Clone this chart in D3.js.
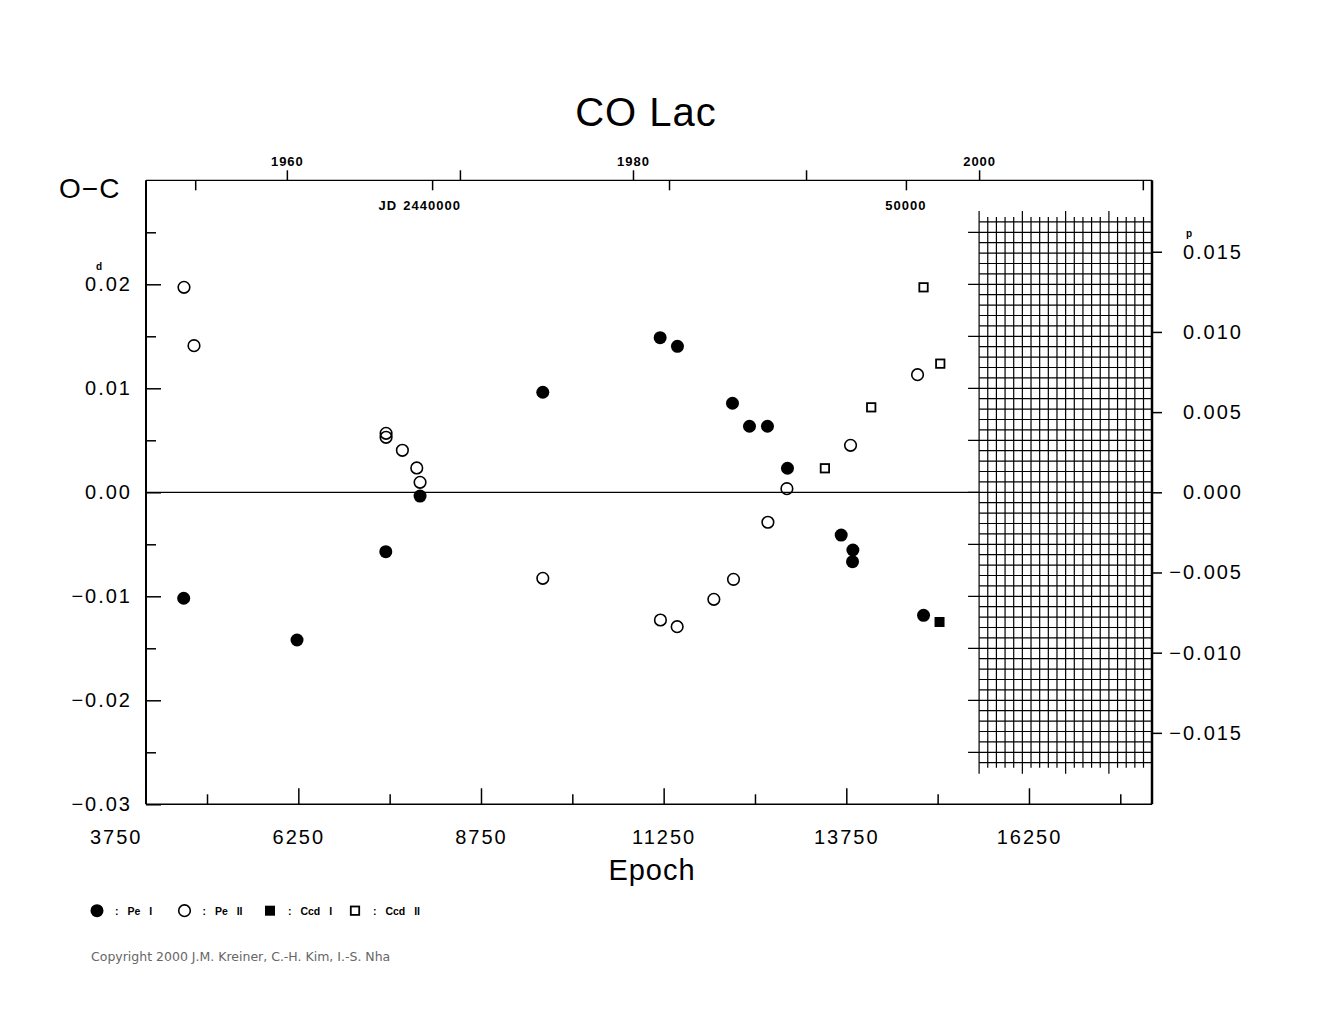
<!DOCTYPE html>
<html><head><meta charset="utf-8">
<script src="https://cdn.jsdelivr.net/npm/d3@7"></script>
<style>
body{margin:0;background:#fff}
svg{display:block;font-family:"Liberation Sans",Arial,sans-serif}
</style>
</head><body>
<svg id="chart" width="1325" height="1020"></svg>
<script>
// ---------- data ----------
const title = "CO Lac";
const period = 1.54202;          // days
const T0 = 2427539;              // JD of epoch 0
const epochDomain = [4165, 17934];
const ocDomain = [-0.03, 0.03];

const epochTicks = [3750, 6250, 8750, 11250, 13750, 16250];
const epochMinorTicks = [5000, 7500, 10000, 12500, 15000, 17500];
const ocTicks = [-0.03, -0.02, -0.01, 0.00, 0.01, 0.02];
const ocMinorTicks = [-0.025, -0.015, -0.005, 0.005, 0.015, 0.025];
const phaseTicks = [-0.015, -0.010, -0.005, 0.000, 0.005, 0.010, 0.015];
const yearTicks = [1960, 1970, 1980, 1990, 2000];
const yearLabels = [1960, 1980, 2000];
const jdTicks = [2435000, 2440000, 2445000, 2450000, 2455000];
const jdLabelValues = [2440000, 2450000];
const jdLabelTexts = ["2440000", "50000"];

const peI_epoch = [4681, 6232, 7447, 7916, 9596, 11202, 11439, 12192, 12425, 12671, 12945, 13680, 13840, 13835, 14807];
const peI_oc    = [-0.01019, -0.01420, -0.00571, -0.00036, 0.00962, 0.01487, 0.01404, 0.00856, 0.00635, 0.00635, 0.00231, -0.00411, -0.00555, -0.00667, -0.01183];

const peII_epoch = [4685, 4822, 7451, 7451, 7674, 7871, 7916, 9596, 11206, 11435, 11937, 12206, 12677, 12937, 13808, 14725];
const peII_oc    = [0.01971, 0.01410, 0.00567, 0.00529, 0.00404, 0.00234, 0.00096, -0.00827, -0.01228, -0.01292, -0.01029, -0.00837, -0.00288, 0.00035, 0.00452, 0.01131];

const ccdI_epoch = [15026];
const ccdI_oc    = [-0.01247];

const ccdII_epoch = [13457, 14091, 14807, 15036];
const ccdII_oc    = [0.00231, 0.00817, 0.01971, 0.01237];

const legendLabels = [": Pe I", ": Pe II", ": Ccd I", ": Ccd II"];
const copyright = "Copyright 2000 J.M. Kreiner, C.-H. Kim, I.-S. Nha";

// ---------- scales ----------
const L = 146, R = 1152, T = 180.3, B = 804.3;
const svg = d3.select("#chart");

const x = d3.scaleLinear().domain(epochDomain).range([L, R]);
const y = d3.scaleLinear().domain(ocDomain).range([B, T]);
const jdToYear = jd => 2000 + (jd - 2451544.5) / 365.25;
const jdDomain = epochDomain.map(e => T0 + period * e);
const xJD = d3.scaleLinear().domain(jdDomain).range([L, R]);
const xYear = d3.scaleLinear().domain(jdDomain.map(jdToYear)).range([L, R]);
const yPhase = d3.scaleLinear().domain(ocDomain.map(v => v / period)).range([B, T]);

// ---------- title & labels ----------
svg.append("text").attr("x", 646).attr("y", 126).attr("text-anchor", "middle")
  .attr("font-size", 40).attr("letter-spacing", 1).text(title);
svg.append("text").attr("x", 59).attr("y", 198).attr("font-size", 28).attr("letter-spacing", 1).text("O\u2212C");
svg.append("text").attr("x", 652).attr("y", 880).attr("text-anchor", "middle")
  .attr("font-size", 29).attr("letter-spacing", 1).text("Epoch");

// ---------- future grid ----------
const g = svg.append("g").attr("stroke", "#000").attr("stroke-width", 1.2);
const gridYears = d3.range(0, 21).map(k => 2000 + k * 0.5);
const gridOC = d3.range(-26, 27).map(k => k / 1000);
const gTop = y(0.026), gBot = y(-0.026), gLeft = xYear(2000);
gridYears.forEach((yr, i) => {
  const ext = i % 5 === 0 ? 11 : 5;
  g.append("line").attr("x1", xYear(yr)).attr("x2", xYear(yr))
    .attr("y1", gTop - ext).attr("y2", gBot + ext);
});
gridOC.forEach(v => {
  const major = Math.abs(Math.round(v * 1000)) % 5 === 0;
  g.append("line").attr("x1", major ? gLeft - 11 : gLeft).attr("x2", R)
    .attr("y1", y(v)).attr("y2", y(v));
});

// ---------- zero line ----------
svg.append("line").attr("x1", L).attr("x2", gLeft).attr("y1", y(0)).attr("y2", y(0))
  .attr("stroke", "#000").attr("stroke-width", 1.2);

// ---------- axes ----------
function styleAxis(sel, fs) {
  sel.select(".domain").remove();
  sel.selectAll("line").attr("stroke", "#000").attr("stroke-width", 1.5);
  sel.selectAll("text").attr("font-size", fs).attr("fill", "#000")
    .attr("font-family", "Liberation Sans, Arial, sans-serif");
}
// left
const leftAx = svg.append("g").attr("transform", `translate(${L},0)`)
  .call(d3.axisLeft(y).tickValues(ocTicks).tickSizeInner(-15).tickSizeOuter(0).tickPadding(14)
    .tickFormat(d3.format(".2f")));
styleAxis(leftAx, 20);
leftAx.selectAll("text").attr("letter-spacing", 2);
const leftMinor = svg.append("g").attr("transform", `translate(${L},0)`)
  .call(d3.axisLeft(y).tickValues(ocMinorTicks).tickSizeInner(-10).tickSizeOuter(0).tickFormat(""));
styleAxis(leftMinor, 10);
svg.append("text").attr("x", 96).attr("y", 270).attr("font-size", 10).attr("font-weight", "bold").text("d");

// right (phase)
const rightAx = svg.append("g").attr("transform", `translate(${R},0)`)
  .call(d3.axisRight(yPhase).tickValues(phaseTicks).tickSizeInner(10).tickSizeOuter(0).tickPadding(0)
    .tickFormat(d3.format(".3f")));
styleAxis(rightAx, 20);
rightAx.selectAll("text").attr("text-anchor", "end").attr("x", 91).attr("letter-spacing", 2);
svg.append("text").attr("x", 1186).attr("y", 237).attr("font-size", 10).attr("font-weight", "bold").text("p");

// bottom
const botAx = svg.append("g").attr("transform", `translate(0,${B})`)
  .call(d3.axisBottom(x).tickValues(epochTicks).tickSizeInner(-16).tickSizeOuter(0).tickPadding(26)
    .tickFormat(d3.format("d")));
styleAxis(botAx, 20);
botAx.selectAll("text").attr("letter-spacing", 2);
botAx.selectAll(".tick").filter(d => d < epochDomain[0] || d > epochDomain[1]).select("line").remove();
const botMinor = svg.append("g").attr("transform", `translate(0,${B})`)
  .call(d3.axisBottom(x).tickValues(epochMinorTicks).tickSizeInner(-10).tickSizeOuter(0).tickFormat(""));
styleAxis(botMinor, 10);

// top: years (outward) and JD (inward)
const yearAx = svg.append("g").attr("transform", `translate(0,${T})`)
  .call(d3.axisTop(xYear).tickValues(yearTicks).tickSizeInner(10).tickSizeOuter(0).tickPadding(4)
    .tickFormat(d => yearLabels.includes(d) ? String(d) : ""));
styleAxis(yearAx, 13);
yearAx.selectAll("text").attr("font-weight", "bold").attr("letter-spacing", 1);
const jdAx = svg.append("g").attr("transform", `translate(0,${T})`)
  .call(d3.axisTop(xJD).tickValues(jdTicks).tickSizeInner(-10).tickSizeOuter(0).tickFormat(""));
styleAxis(jdAx, 10);
jdLabelValues.forEach((jd, i) => {
  svg.append("text").attr("x", xJD(jd)).attr("y", 210).attr("text-anchor", "middle")
    .attr("font-size", 13).attr("font-weight", "bold").attr("letter-spacing", 1).text(jdLabelTexts[i]);
});
svg.append("text").attr("x", xJD(jdLabelValues[0]) - 35).attr("y", 210).attr("text-anchor", "end")
  .attr("font-size", 13).attr("font-weight", "bold").attr("letter-spacing", 1).text("JD");

// ---------- frame ----------
const fr = svg.append("g").attr("stroke", "#000");
fr.append("line").attr("x1", L).attr("x2", R).attr("y1", T).attr("y2", T).attr("stroke-width", 1.3);
fr.append("line").attr("x1", L).attr("x2", R).attr("y1", B).attr("y2", B).attr("stroke-width", 1.6);
fr.append("line").attr("x1", L).attr("x2", L).attr("y1", T).attr("y2", B).attr("stroke-width", 2);
fr.append("line").attr("x1", R).attr("x2", R).attr("y1", T).attr("y2", B).attr("stroke-width", 2.5);

// ---------- points ----------
const pts = svg.append("g");
pts.selectAll(".peI").data(d3.zip(peI_epoch, peI_oc)).join("circle")
  .attr("cx", d => x(d[0])).attr("cy", d => y(d[1])).attr("r", 6.5).attr("fill", "#000");
pts.selectAll(".peII").data(d3.zip(peII_epoch, peII_oc)).join("circle")
  .attr("cx", d => x(d[0])).attr("cy", d => y(d[1])).attr("r", 5.8)
  .attr("fill", "none").attr("stroke", "#000").attr("stroke-width", 1.6);
pts.selectAll(".ccdI").data(d3.zip(ccdI_epoch, ccdI_oc)).join("rect")
  .attr("x", d => x(d[0]) - 5).attr("y", d => y(d[1]) - 5).attr("width", 10).attr("height", 10).attr("fill", "#000");
pts.selectAll(".ccdII").data(d3.zip(ccdII_epoch, ccdII_oc)).join("rect")
  .attr("x", d => x(d[0]) - 4.2).attr("y", d => y(d[1]) - 4.2).attr("width", 8.4).attr("height", 8.4)
  .attr("fill", "none").attr("stroke", "#000").attr("stroke-width", 1.8);

// ---------- legend ----------
const lg = svg.append("g");
const legX = [97, 184.5, 270, 355];
const ly = 910.7;
lg.append("circle").attr("cx", legX[0]).attr("cy", ly).attr("r", 6.5).attr("fill", "#000");
lg.append("circle").attr("cx", legX[1]).attr("cy", ly).attr("r", 5.8).attr("fill", "none").attr("stroke", "#000").attr("stroke-width", 1.6);
lg.append("rect").attr("x", legX[2] - 5).attr("y", ly - 5).attr("width", 10).attr("height", 10).attr("fill", "#000");
lg.append("rect").attr("x", legX[3] - 4.2).attr("y", ly - 4.2).attr("width", 8.4).attr("height", 8.4).attr("fill", "none").attr("stroke", "#000").attr("stroke-width", 1.8);
legendLabels.forEach((t, i) => {
  lg.append("text").attr("x", legX[i] + 18).attr("y", ly + 4).attr("font-size", 10.5).attr("font-weight", "bold")
    .attr("word-spacing", 6).attr("xml:space", "preserve").text(t);
});

// ---------- copyright ----------
svg.append("text").attr("x", 91).attr("y", 961).attr("font-size", 12.5).attr("fill", "#666")
  .attr("font-family", "DejaVu Sans, sans-serif").text(copyright);
</script>
</body></html>
